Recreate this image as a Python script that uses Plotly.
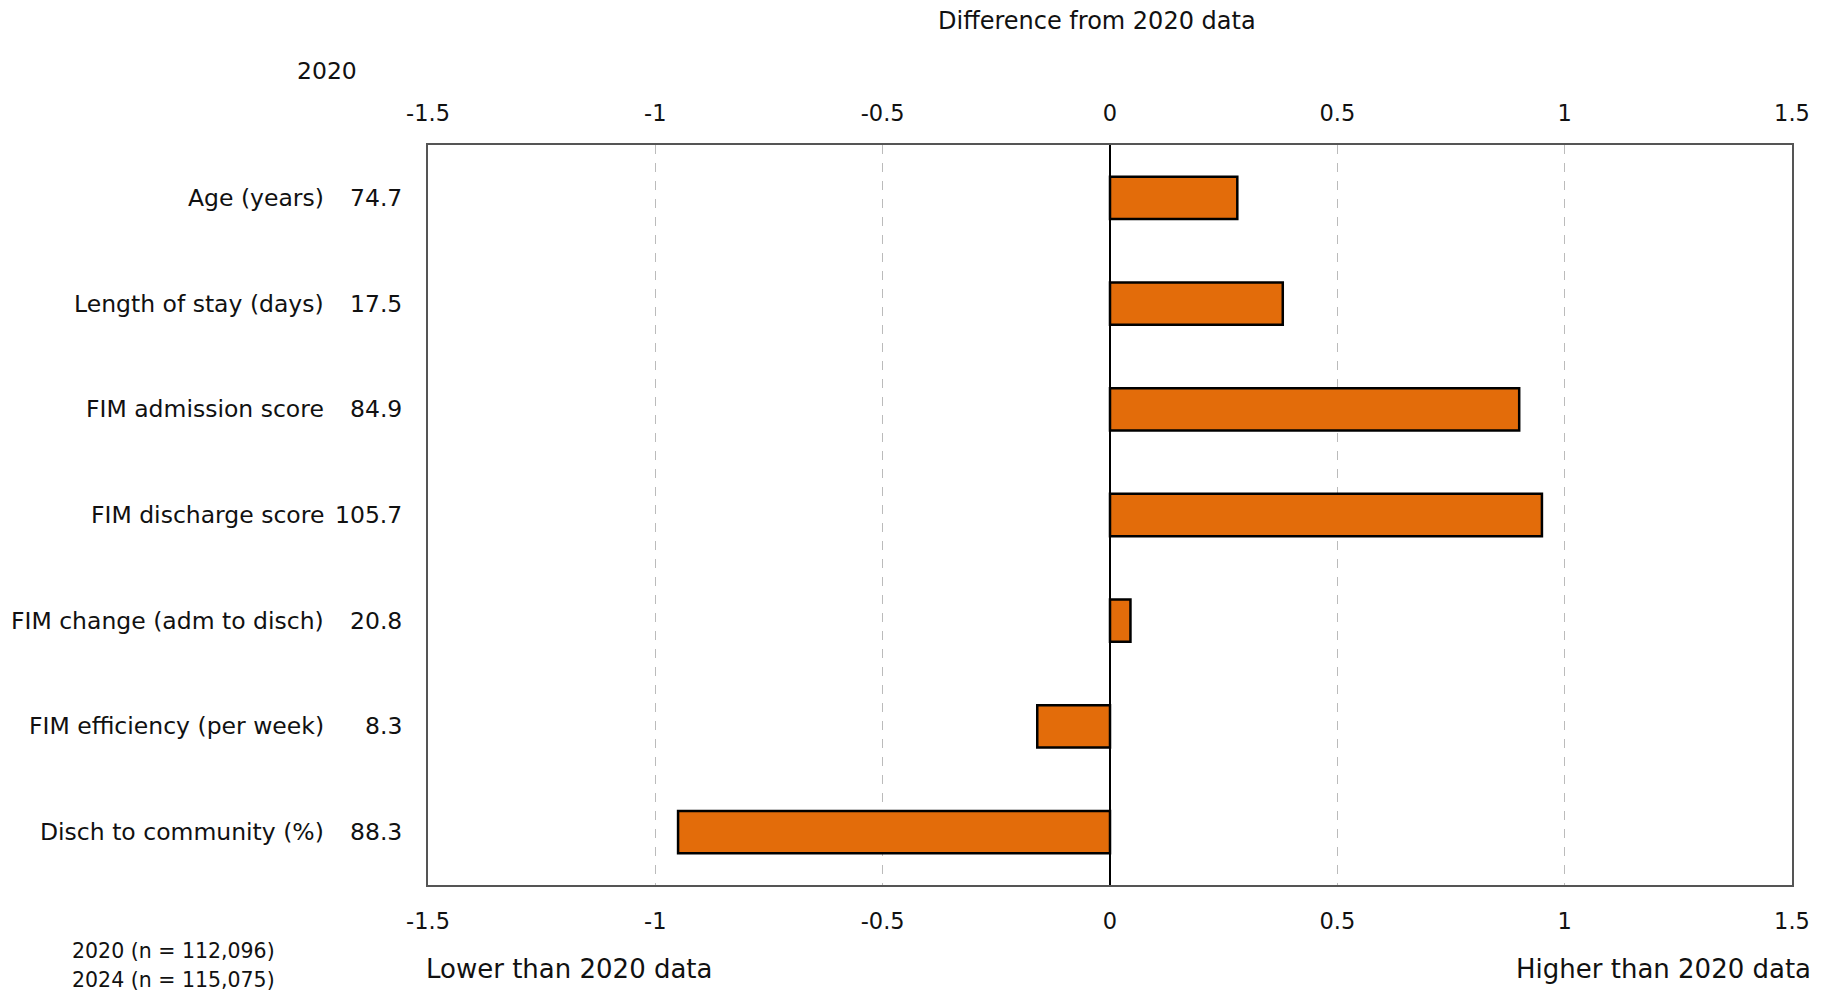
import plotly.graph_objects as go

categories = ["Age (years)", "Length of stay (days)", "FIM admission score",
              "FIM discharge score", "FIM change (adm to disch)",
              "FIM efficiency (per week)", "Disch to community (%)"]
values_2020 = ["74.7", "17.5", "84.9", "105.7", "20.8", "8.3", "88.3"]
diffs = [0.28, 0.38, 0.90, 0.95, 0.045, -0.16, -0.95]
tick_vals = [-1.5, -1, -0.5, 0, 0.5, 1, 1.5]
tick_text = ["-1.5", "-1", "-0.5", "0", "0.5", "1", "1.5"]

FONT = "DejaVu Sans"
FS = 23.5
OFF = 8  # page body margin offset

W, H = 1833 - OFF, 993 - OFF
L, R, T, B = 428 - OFF, 1792 - OFF, 145 - OFF, 885 - OFF

fig = go.Figure()
fig.add_trace(go.Bar(
    y=categories, x=diffs, orientation="h", width=0.4,
    marker=dict(color="#E36C0A", line=dict(color="black", width=2.5)),
    showlegend=False, hoverinfo="x+y"))
fig.add_trace(go.Scatter(x=[0], y=[categories[0]], xaxis="x2", mode="markers",
                         marker=dict(opacity=0), showlegend=False, hoverinfo="skip"))

axis_common = dict(range=[-1.5, 1.5], tickvals=tick_vals, ticktext=tick_text,
                   tickfont=dict(family=FONT, size=22.5, color="#111"))
fig.update_layout(
    width=W, height=H,
    margin=dict(l=L, r=W - R, t=T, b=H - B),
    plot_bgcolor="white", paper_bgcolor="white",
    font=dict(family=FONT, size=FS, color="#111"),
    xaxis=dict(**axis_common, showgrid=True, gridcolor="#bbbbbb", griddash="dash",
               gridwidth=1, zeroline=True, zerolinecolor="black", zerolinewidth=1.5,
               showline=True, linecolor="#555", linewidth=2, mirror=True,
               ticks="", ticklabelstandoff=15),
    xaxis2=dict(**axis_common, overlaying="x", side="top", matches="x",
                showgrid=False, zeroline=False, showline=False, ticks="",
                ticklabelstandoff=19),
    yaxis=dict(categoryorder="array", categoryarray=categories[::-1],
               showticklabels=False, showgrid=False, zeroline=False,
               showline=True, linecolor="#555", linewidth=2, mirror=True,
               range=[-0.5, 6.5]),
)

def px(xp):
    return (xp - OFF - L) / (R - L)
def py(yp):
    return (B - (yp - OFF)) / (B - T)

for cat, v in zip(categories, values_2020):
    fig.add_annotation(x=px(326), y=cat, xref="paper", yref="y", text=cat, showarrow=False,
                       xanchor="right", font=dict(family=FONT, size=FS))
    fig.add_annotation(x=px(404), y=cat, xref="paper", yref="y", text=v, showarrow=False,
                       xanchor="right", font=dict(family=FONT, size=FS))

fig.add_annotation(x=px(1097), y=py(21), xref="paper", yref="paper",
                   text="Difference from 2020 data", showarrow=False,
                   xanchor="center", yanchor="middle", font=dict(family=FONT, size=24))
fig.add_annotation(x=px(327), y=py(71), xref="paper", yref="paper",
                   text="2020", showarrow=False, xanchor="center", yanchor="middle",
                   font=dict(family=FONT, size=FS))
fig.add_annotation(x=px(424), y=py(969), xref="paper", yref="paper",
                   text="Lower than 2020 data", showarrow=False, xanchor="left",
                   yanchor="middle", font=dict(family=FONT, size=26))
fig.add_annotation(x=px(1813), y=py(969), xref="paper", yref="paper",
                   text="Higher than 2020 data", showarrow=False, xanchor="right",
                   yanchor="middle", font=dict(family=FONT, size=26))
fig.add_annotation(x=px(70), y=py(951), xref="paper", yref="paper",
                   text="2020 (n = 112,096)", showarrow=False, xanchor="left",
                   yanchor="middle", font=dict(family=FONT, size=20.5))
fig.add_annotation(x=px(70), y=py(980), xref="paper", yref="paper",
                   text="2024 (n = 115,075)", showarrow=False, xanchor="left",
                   yanchor="middle", font=dict(family=FONT, size=20.5))

fig.write_html("out.html")
